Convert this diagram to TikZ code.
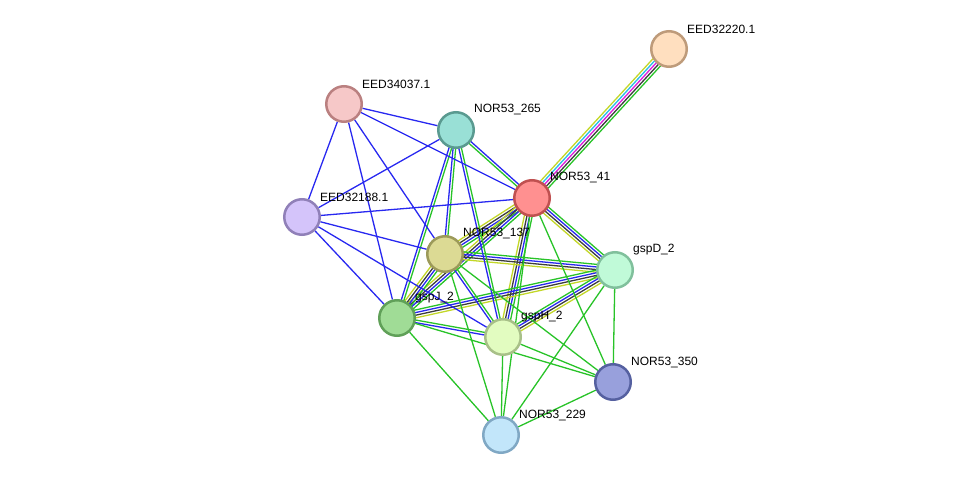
\documentclass[tikz,border=0pt]{standalone}
\usepackage{fontspec}
\setmainfont{Liberation Sans}
\usetikzlibrary{calc,backgrounds}

\definecolor{gnl}{RGB}{40,195,40}
\definecolor{bll}{RGB}{40,40,240}
\definecolor{bkl}{RGB}{60,60,60}
\definecolor{yel}{RGB}{195,215,40}
\definecolor{mgl}{RGB}{220,30,220}
\definecolor{cyl}{RGB}{40,190,230}

% one line per evidence channel, side by side
\newcommand\stredge[3]{%
  \foreach \col [count=\ch] in {#3} {\xdef\nch{\ch}}%
  \foreach \col [count=\ch] in {#3} {%
    \pgfmathsetmacro\off{(\ch-(\nch+1)/2)*2.6}%
    \draw [link, draw=\col] ($(#1.center)!\off pt!90:(#2.center)$) -- ($(#2.center)!\off pt!-90:(#1.center)$);
  }%
}

\begin{document}
\begin{tikzpicture}[x=1pt, y=-1pt,
  every prot/.style={circle, minimum size=35.5pt, line width=2.5pt, inner sep=0pt},
  prot eed220/.style={fill={rgb,255:red,255;green,223;blue,191}, draw={rgb,255:red,190;green,155;blue,122}},
  prot eed037/.style={fill={rgb,255:red,246;green,200;blue,200}, draw={rgb,255:red,186;green,128;blue,128}},
  prot n265/.style={fill={rgb,255:red,153;green,224;blue,214}, draw={rgb,255:red,90;green,154;blue,144}},
  prot n41/.style={fill={rgb,255:red,255;green,144;blue,144}, draw={rgb,255:red,192;green,80;blue,80}},
  prot eed188/.style={fill={rgb,255:red,212;green,196;blue,250}, draw={rgb,255:red,144;green,128;blue,184}},
  prot n137/.style={fill={rgb,255:red,220;green,218;blue,148}, draw={rgb,255:red,156;green,154;blue,90}},
  prot gspD/.style={fill={rgb,255:red,192;green,250;blue,216}, draw={rgb,255:red,128;green,192;blue,156}},
  prot gspJ/.style={fill={rgb,255:red,160;green,220;blue,150}, draw={rgb,255:red,96;green,160;blue,88}},
  prot gspH/.style={fill={rgb,255:red,226;green,252;blue,192}, draw={rgb,255:red,168;green,192;blue,136}},
  prot n350/.style={fill={rgb,255:red,152;green,160;blue,220}, draw={rgb,255:red,85;green,96;blue,160}},
  prot n229/.style={fill={rgb,255:red,194;green,230;blue,250}, draw={rgb,255:red,128;green,168;blue,196}},
  link/.style={line width=1.3pt},
  plabel/.style={anchor=west, inner sep=1pt, font=\fontsize{12}{14}\selectfont}]

\useasboundingbox (0,0) rectangle (976,481);

\foreach \n/\x/\y/\lbl in {eed220/669/49/EED32220.1, eed037/344/104/EED34037.1,
    n265/456/130/NOR53\_265, n41/532/198/NOR53\_41, eed188/302/217/EED32188.1,
    n137/445/254/NOR53\_137, gspD/615/270/gspD\_2, gspJ/397/318/gspJ\_2,
    gspH/503/337/gspH\_2, n350/613/382/NOR53\_350, n229/501/435/NOR53\_229}
{
  \node [every prot/.try, prot \n/.try] (\n) at (\x,\y) {};
  \node [plabel] (lbl-\n) at ($(\n)+(17,-20)$) {\lbl};
}

\begin{pgfonlayer}{background}
\stredge{n41}{eed220}{gnl,bkl,mgl,cyl,yel}

\foreach \a/\b in {n41/n137, n41/gspD, n41/gspJ, n41/gspH,
    n137/gspD, n137/gspJ, gspJ/gspD, gspH/gspD}
  \stredge{\a}{\b}{yel,bkl,bll,gnl};

\foreach \a/\b in {n41/n265, n265/n137, n265/gspJ, n265/gspH, n137/gspH, gspJ/gspH}
  \stredge{\a}{\b}{bll,gnl};

\foreach \a/\b in {eed037/n265, eed037/n41, eed037/eed188, eed037/gspJ, eed037/n137,
    eed188/n265, eed188/n41, eed188/n137, eed188/gspH, eed188/gspJ}
  \draw [link, bll] (\a) -- (\b);

\foreach \a/\b in {n41/n350, n41/n229, n137/n350, n137/n229, gspJ/n229, gspJ/n350,
    gspH/n350, gspH/n229, gspD/n350, gspD/n229, n350/n229}
  \draw [link, gnl] (\a) -- (\b);
\end{pgfonlayer}

\end{tikzpicture}
\end{document}
